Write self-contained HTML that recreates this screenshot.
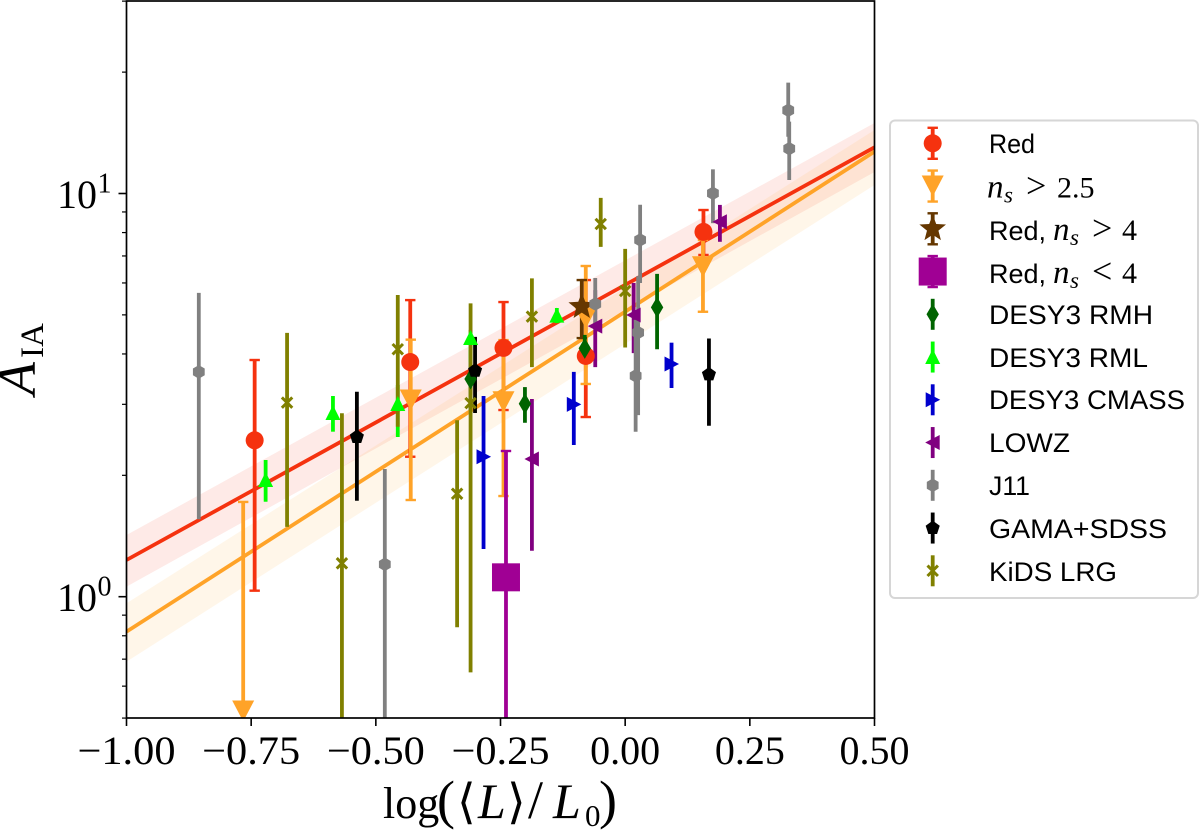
<!DOCTYPE html>
<html lang="en">
<head>
<meta charset="utf-8">
<title>Intrinsic alignment amplitude vs luminosity</title>
<style>
html,body{margin:0;padding:0;background:#fff;width:1200px;height:831px;overflow:hidden}
svg{display:block;position:absolute;left:0;top:0}
text{fill:#000}
.num{font-family:"Liberation Serif",serif;font-size:40px}
.leg{font-family:"Liberation Sans",sans-serif;font-size:27px}
.mi{font-family:"Liberation Serif",serif;font-size:33px;font-style:italic}
.ms{font-family:"Liberation Serif",serif;font-size:23px;font-style:italic}
.mo{font-family:"Liberation Serif",serif;font-size:36px}
.md{font-family:"Liberation Serif",serif;font-size:30px}
</style>
</head>
<body>
<svg id="chart" width="1200" height="831" viewBox="0 0 1200 831" xmlns="http://www.w3.org/2000/svg">
<defs><clipPath id="plot-clip"><rect x="126.5" y="1" width="748" height="717"/></clipPath></defs>
<rect x="126.5" y="1" width="748" height="717" fill="#fff"/>
<g id="bands" clip-path="url(#plot-clip)"></g>
<g id="fits" clip-path="url(#plot-clip)"></g>
<g id="bars" clip-path="url(#plot-clip)"></g>
<g id="points" clip-path="url(#plot-clip)"></g>
<g id="ticks"></g>
<rect x="126.5" y="1" width="748" height="717" fill="none" stroke="#000" stroke-width="1.7"/>

<text y="818" font-family="'Liberation Serif','DejaVu Serif',serif" font-size="44"><tspan x="383">log</tspan><tspan x="437" font-size="54">(</tspan><tspan x="457" font-size="48">⟨</tspan><tspan x="478" font-size="50" font-style="italic">L</tspan><tspan x="507" font-size="48">⟩</tspan><tspan x="528" font-size="54">/</tspan><tspan x="553" font-size="50" font-style="italic">L</tspan><tspan x="585" dy="8" font-size="31">0</tspan><tspan x="599" dy="-8" font-size="54">)</tspan></text>
<text transform="translate(35,395) rotate(-90)" font-family="'Liberation Serif',serif"><tspan x="0" y="0" font-size="54" font-style="italic">A</tspan><tspan x="37" y="8" font-size="33">IA</tspan></text>

<g>
<rect x="890" y="120.5" width="308" height="477.5" rx="5" ry="5" fill="#fff" stroke="#d6d6d6" stroke-width="2"/>
<g id="legend-handles"></g>
<text class="leg" x="989" y="153" textLength="46" lengthAdjust="spacingAndGlyphs">Red</text>
<text y="197.5"><tspan class="mi" x="987">n</tspan><tspan class="ms" x="1004" dy="5">s</tspan><tspan class="mo" x="1026" dy="-5">&gt;</tspan><tspan class="md" x="1057">2.5</tspan></text>
<text y="240"><tspan class="leg" x="989">Red,</tspan><tspan class="mi" x="1053">n</tspan><tspan class="ms" x="1070" dy="5">s</tspan><tspan class="mo" x="1092" dy="-5">&gt;</tspan><tspan class="md" x="1122">4</tspan></text>
<text y="283"><tspan class="leg" x="989">Red,</tspan><tspan class="mi" x="1053">n</tspan><tspan class="ms" x="1070" dy="5">s</tspan><tspan class="mo" x="1092" dy="-5">&lt;</tspan><tspan class="md" x="1122">4</tspan></text>
<text class="leg" x="989" y="324" textLength="164" lengthAdjust="spacingAndGlyphs">DESY3 RMH</text>
<text class="leg" x="989" y="367" textLength="159" lengthAdjust="spacingAndGlyphs">DESY3 RML</text>
<text class="leg" x="989" y="409" textLength="196" lengthAdjust="spacingAndGlyphs">DESY3 CMASS</text>
<text class="leg" x="989" y="452" textLength="81" lengthAdjust="spacingAndGlyphs">LOWZ</text>
<text class="leg" x="989" y="495" textLength="41" lengthAdjust="spacingAndGlyphs">J11</text>
<text class="leg" x="989" y="538" textLength="178" lengthAdjust="spacingAndGlyphs">GAMA+SDSS</text>
<text class="leg" x="989" y="581" textLength="128" lengthAdjust="spacingAndGlyphs">KiDS LRG</text>
</g>
</svg>
<script>
// ---- Tick data ----
const xTickValues = [-1, -0.75, -0.5, -0.25, 0, 0.25, 0.5];
const xTickLabels = ['\u22121.00', '\u22120.75', '\u22120.50', '\u22120.25', '0.00', '0.25', '0.50'];
const yMajorValues = [1, 10];
const yMajorExponents = ['0', '1'];
const yMinorValues = [0.5, 0.6, 0.7, 0.8, 0.9, 2, 3, 4, 5, 6, 7, 8, 9, 20, 30];

// ---- Fit lines and bands ----
const fitX = [-1, 0.5];
const redFit = [1.233, 13.02];
const redBandUpper = [1.422, 14.96];
const redBandLower = [1.059, 11.31];
const orangeFit = [0.819, 12.70];
const orangeBandUpper = [0.963, 14.37];
const orangeBandLower = [0.690, 10.50];

// ---- Series values ----
const redX = [-0.743, -0.431, -0.244, -0.079, 0.157];
const redY = [2.443, 3.82, 4.14, 3.954, 8.03];
const redLo = [1.035, 2.224, 2.904, 2.79, 7.04];
const redHi = [3.864, 5.44, 5.38, 6.10, 9.10];

const nsX = [-0.766, -0.430, -0.244, -0.079, 0.156];
const nsY = [0.5206, 3.075, 3.045, 4.91, 6.58];
const nsLo = [0.4, 1.737, 1.777, 3.37, 5.09];
const nsHi = [1.718, 4.34, 4.33, 6.61, 7.67];

const starX = [-0.087];
const starY = [5.24];
const starLo = [4.38];
const starHi = [6.10];

const squareX = [-0.239];
const squareY = [1.117];
const squareLo = [0.4];
const squareHi = [2.298];

const rmhX = [-0.310, -0.201, -0.081, 0.064];
const rmhY = [3.467, 3.01, 4.13, 5.22];
const rmhLo = [2.904, 2.70, 3.80, 4.11];
const rmhHi = [4.09, 3.31, 4.46, 6.32];

const rmlX = [-0.721, -0.586, -0.456, -0.310, -0.137];
const rmlY = [1.947, 2.855, 3.005, 4.38, 4.98];
const rmlLo = [1.72, 2.566, 2.49, 3.82, 4.77];
const rmlHi = [2.183, 3.146, 3.35, 4.59, 5.20];

const cmassX = [-0.284, -0.103, 0.093];
const cmassY = [2.224, 3.00, 3.776];
const cmassLo = [1.313, 2.378, 3.293];
const cmassHi = [3.146, 3.61, 4.266];

const lowzX = [-0.187, -0.060, 0.017, 0.190];
const lowzY = [2.195, 4.69, 4.996, 8.51];
const lowzLo = [1.30, 3.71, 4.02, 7.59];
const lowzHi = [3.093, 5.76, 6.00, 9.37];

const j11X = [-0.855, -0.482, -0.060, 0.021, 0.026, 0.030, 0.176, 0.327, 0.329];
const j11Y = [3.61, 1.203, 5.32, 3.53, 4.52, 7.67, 10.01, 16.08, 12.92];
const j11Lo = [1.556, 0.4, 4.72, 2.566, 2.82, 6.00, 8.44, 13.83, 10.80];
const j11Hi = [5.67, 2.074, 6.17, 4.86, 6.24, 9.38, 11.48, 18.83, 15.07];

const gamaX = [-0.538, -0.301, 0.168];
const gamaY = [2.49, 3.635, 3.56];
const gamaLo = [1.73, 2.855, 2.655];
const gamaHi = [3.223, 4.41, 4.37];

const kidsX = [-0.678, -0.568, -0.456, -0.337, -0.310, -0.187, -0.049, 0.000];
const kidsY = [3.03, 1.21, 4.11, 1.80, 3.02, 4.95, 8.40, 5.73];
const kidsLo = [1.49, 0.4, 2.64, 0.84, 0.649, 3.71, 7.37, 4.15];
const kidsHi = [4.51, 2.85, 5.60, 2.74, 5.34, 6.16, 9.75, 7.29];

// ---- Axis functions ----
const X0 = 126.5, X1 = 874.5, XMIN = -1, XMAX = 0.5;
const Y_ONE = 596.7, DECADE = 403.2;
function xScale(v) { return X0 + (v - XMIN) / (XMAX - XMIN) * (X1 - X0); }
function yScale(v) { return Y_ONE - Math.log10(v) * DECADE; }

// ---- Series styling ----
const seriesList = [
  {key: 'red', x: redX, y: redY, lo: redLo, hi: redHi, color: '#f5320f', kind: 'circle', caps: true},
  {key: 'ns-gt-2-5', x: nsX, y: nsY, lo: nsLo, hi: nsHi, color: '#ffa328', kind: 'bigdown', caps: true},
  {key: 'red-ns-gt-4', x: starX, y: starY, lo: starLo, hi: starHi, color: '#653700', kind: 'star', caps: true},
  {key: 'red-ns-lt-4', x: squareX, y: squareY, lo: squareLo, hi: squareHi, color: '#a00094', kind: 'square', caps: true},
  {key: 'desy3-rmh', x: rmhX, y: rmhY, lo: rmhLo, hi: rmhHi, color: '#006400', kind: 'diamond', caps: false},
  {key: 'desy3-rml', x: rmlX, y: rmlY, lo: rmlLo, hi: rmlHi, color: '#00ff00', kind: 'up', caps: false},
  {key: 'desy3-cmass', x: cmassX, y: cmassY, lo: cmassLo, hi: cmassHi, color: '#0000cd', kind: 'right', caps: false},
  {key: 'lowz', x: lowzX, y: lowzY, lo: lowzLo, hi: lowzHi, color: '#800080', kind: 'left', caps: false},
  {key: 'j11', x: j11X, y: j11Y, lo: j11Lo, hi: j11Hi, color: '#808080', kind: 'hexagon', caps: false},
  {key: 'gama-sdss', x: gamaX, y: gamaY, lo: gamaLo, hi: gamaHi, color: '#000000', kind: 'pentagon', caps: false},
  {key: 'kids-lrg', x: kidsX, y: kidsY, lo: kidsLo, hi: kidsHi, color: '#808000', kind: 'cross', caps: false}
];

// ---- Drawing helpers ----
const NS = 'http://www.w3.org/2000/svg';
function make(tag, attrs, parent) {
  const node = document.createElementNS(NS, tag);
  for (const k in attrs) node.setAttribute(k, attrs[k]);
  parent.appendChild(node);
  return node;
}
function regular(cx, cy, r, n, rot) {
  const pts = [];
  for (let i = 0; i < n; i++) {
    const a = rot + i * 2 * Math.PI / n;
    pts.push((cx + r * Math.cos(a)).toFixed(2) + ',' + (cy + r * Math.sin(a)).toFixed(2));
  }
  return pts.join(' ');
}
function starPts(cx, cy, R, r) {
  const pts = [];
  for (let i = 0; i < 10; i++) {
    const a = -Math.PI / 2 + i * Math.PI / 5;
    const q = i % 2 ? r : R;
    pts.push((cx + q * Math.cos(a)).toFixed(2) + ',' + (cy + q * Math.sin(a)).toFixed(2));
  }
  return pts.join(' ');
}
function poly(list, cx, cy) {
  return list.map(function (p) { return (cx + p[0]) + ',' + (cy + p[1]); }).join(' ');
}
function drawMarker(kind, cx, cy, color, parent) {
  if (kind === 'circle') return make('circle', {cx: cx, cy: cy, r: 9, fill: color}, parent);
  if (kind === 'square') return make('rect', {x: cx - 14, y: cy - 14, width: 28, height: 28, fill: color}, parent);
  if (kind === 'cross') {
    return make('path', {d: 'M' + (cx - 5.2) + ' ' + (cy - 5.2) + 'L' + (cx + 5.2) + ' ' + (cy + 5.2) + 'M' + (cx - 5.2) + ' ' + (cy + 5.2) + 'L' + (cx + 5.2) + ' ' + (cy - 5.2), stroke: color, 'stroke-width': 3, fill: 'none'}, parent);
  }
  let pts = '';
  if (kind === 'bigdown') pts = poly([[-11, -10.5], [11, -10.5], [0, 10.5]], cx, cy);
  if (kind === 'up') pts = poly([[-7.5, 7], [7.5, 7], [0, -8]], cx, cy);
  if (kind === 'right') pts = poly([[-7, -7.5], [7.5, 0], [-7, 7.5]], cx, cy);
  if (kind === 'left') pts = poly([[7, -7.5], [-7.5, 0], [7, 7.5]], cx, cy);
  if (kind === 'diamond') pts = poly([[0, -10.5], [6.2, 0], [0, 10.5], [-6.2, 0]], cx, cy);
  if (kind === 'star') pts = starPts(cx, cy, 14, 6);
  if (kind === 'hexagon') pts = regular(cx, cy, 6.8, 6, -Math.PI / 2);
  if (kind === 'pentagon') pts = regular(cx, cy, 7.4, 5, -Math.PI / 2);
  return make('polygon', {points: pts, fill: color}, parent);
}

// ---- Bands and fit lines ----
const bandsLayer = document.getElementById('bands');
const fitsLayer = document.getElementById('fits');
function bandPoints(up, low) {
  return xScale(fitX[0]) + ',' + yScale(up[0]) + ' ' + xScale(fitX[1]) + ',' + yScale(up[1]) + ' ' +
         xScale(fitX[1]) + ',' + yScale(low[1]) + ' ' + xScale(fitX[0]) + ',' + yScale(low[0]);
}
const redBand = make('polygon', {points: bandPoints(redBandUpper, redBandLower), fill: '#f5320f', 'fill-opacity': 0.1}, bandsLayer);


const orangeBand = make('polygon', {points: bandPoints(orangeBandUpper, orangeBandLower), fill: '#ffa328', 'fill-opacity': 0.1}, bandsLayer);


const redLine = make('line', {x1: xScale(fitX[0]), y1: yScale(redFit[0]), x2: xScale(fitX[1]), y2: yScale(redFit[1]), stroke: '#f5320f', 'stroke-width': 3.8}, fitsLayer);


const orangeLine = make('line', {x1: xScale(fitX[0]), y1: yScale(orangeFit[0]), x2: xScale(fitX[1]), y2: yScale(orangeFit[1]), stroke: '#ffa328', 'stroke-width': 3.8}, fitsLayer);



// ---- Error bars then markers ----
const barsLayer = document.getElementById('bars');
const pointsLayer = document.getElementById('points');
seriesList.forEach(function (s) {
  s.x.forEach(function (xv, i) {
    const px = xScale(xv);
    const bar = make('line', {x1: px, x2: px, y1: yScale(s.lo[i]), y2: yScale(s.hi[i]), stroke: s.color, 'stroke-width': 3.8}, barsLayer);
    
    
    if (s.caps) {
      [s.lo[i], s.hi[i]].forEach(function (edge) {
        const cap = make('line', {x1: px - 5.2, x2: px + 5.2, y1: yScale(edge), y2: yScale(edge), stroke: s.color, 'stroke-width': 2.4}, barsLayer);
        
        
      });
    }
  });
});
seriesList.forEach(function (s) {
  s.x.forEach(function (xv, i) {
    const mark = drawMarker(s.kind, xScale(xv), yScale(s.y[i]), s.color, pointsLayer);
    
    
  });
});

// ---- Ticks ----
const ticksLayer = document.getElementById('ticks');
xTickValues.forEach(function (v, i) {
  const px = xScale(v);
  const t = make('line', {x1: px, x2: px, y1: 718, y2: 726, stroke: '#000', 'stroke-width': 1.6}, ticksLayer);
  
  
  const lab = make('text', {x: px, y: 764, 'text-anchor': 'middle', class: 'num'}, ticksLayer);
  if (xTickLabels[i].charAt(0) === '\u2212') {
    lab.setAttribute('textLength', '98');
    lab.setAttribute('lengthAdjust', 'spacingAndGlyphs');
  }
  lab.textContent = xTickLabels[i];
  
  
});
yMajorValues.forEach(function (v, i) {
  const py = yScale(v);
  const t = make('line', {x1: 118.5, x2: 126.5, y1: py, y2: py, stroke: '#000', 'stroke-width': 1.6}, ticksLayer);
  
  
  const lab = make('text', {x: 57, y: py + 14.5, class: 'num'}, ticksLayer);
  lab.textContent = '10';
  
  
  const sup = make('text', {x: 97.5, y: py - 1, class: 'num', style: 'font-size:28px'}, ticksLayer);
  sup.textContent = yMajorExponents[i];
  
  
});
yMinorValues.forEach(function (v) {
  const py = yScale(v);
  const t = make('line', {x1: 122, x2: 126.5, y1: py, y2: py, stroke: '#000', 'stroke-width': 1.2}, ticksLayer);
  
  
});

// ---- Legend handles ----
const legendLayer = document.getElementById('legend-handles');
const LEG_X = 932.7, LEG_TOP = 143.3, LEG_STEP = 42.75;
seriesList.forEach(function (s, i) {
  const cy = LEG_TOP + i * LEG_STEP;
  const bar = make('line', {x1: LEG_X, x2: LEG_X, y1: cy - 15.5, y2: cy + 15.5, stroke: s.color, 'stroke-width': 3.8}, legendLayer);
  
  
  if (s.caps) {
    [cy - 15.5, cy + 15.5].forEach(function (edge) {
      const cap = make('line', {x1: LEG_X - 5.2, x2: LEG_X + 5.2, y1: edge, y2: edge, stroke: s.color, 'stroke-width': 2.4}, legendLayer);
      
      
    });
  }
  const mark = drawMarker(s.kind, LEG_X, cy, s.color, legendLayer);
  
  
});
</script>
</body>
</html>
